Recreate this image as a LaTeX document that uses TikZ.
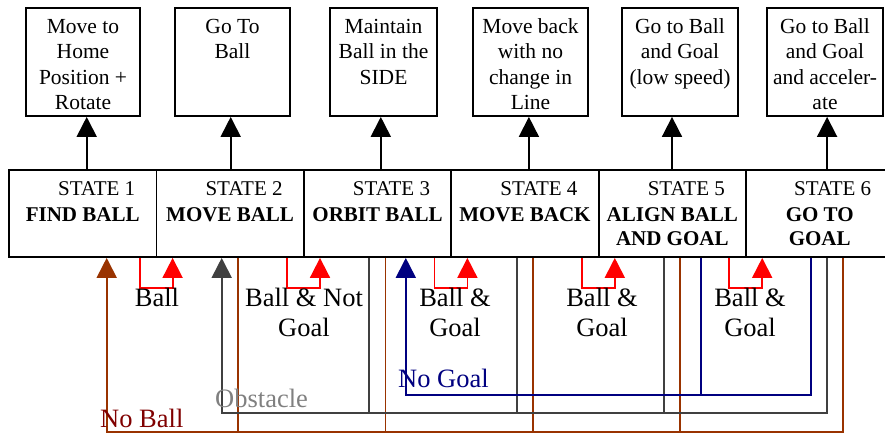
\documentclass[tikz,border=0pt]{standalone}
\usepackage{fontspec}
\setmainfont{Liberation Serif}
\usetikzlibrary{positioning,arrows.meta,calc}
\definecolor{ballred}{HTML}{FF0000}
\definecolor{noballbrown}{HTML}{993300}
\definecolor{noballtext}{HTML}{800000}
\definecolor{obstgray}{HTML}{404040}
\definecolor{obsttext}{HTML}{808080}
\definecolor{nogoalblue}{HTML}{000080}
\newcommand{\stacklines}[1]{\begin{tabular}[t]{@{}c@{}}#1\end{tabular}}
\tikzset{
    on grid,
    node distance=147.4pt,
    state/.style = {
        draw,
        shape=rectangle,
        minimum width=147.4pt,
        inner xsep=0pt,
        inner ysep=0pt,
        text height=25pt,
        text depth=62pt,
        line width=1.8pt,
        font=\fontsize{21}{24.5}\selectfont
    },
    action/.style = {
        draw,
        shape=rectangle,
        inner xsep=0pt,
        inner ysep=0pt,
        text height=25pt,
        text depth=83pt,
        line width=1.8pt,
        font=\fontsize{21.5}{25.5}\selectfont
    },
    translabel/.style = {
        anchor=north,
        inner sep=0pt,
        align=center,
        font=\fontsize{26.5}{30}\selectfont
    },
    buslabel/.style = {
        anchor=base west,
        inner sep=0pt,
        font=\fontsize{26.5}{30}\selectfont
    },
    ball/.style = {draw=ballred, line width=1.8pt},
    noball/.style = {draw=noballbrown, line width=1.8pt},
    obstacle/.style = {draw=obstgray, line width=1.8pt},
    nogoal/.style = {draw=nogoalblue, line width=1.8pt},
    >={Triangle[width=20pt,length=20pt]},
}

\begin{document}
\begin{tikzpicture}[x=1pt,y=-1pt]
        \useasboundingbox (0,0) rectangle (885,432);

        % states
        \node[state] (st1) at (82.7,213.5) {\stacklines{\hspace*{28pt}STATE 1\\[1.5pt]\textbf{FIND BALL}}};
        \node[state, right of=st1] (st2) {\stacklines{\hspace*{28pt}STATE 2\\[1.5pt]\textbf{MOVE BALL}}};
        \node[state, right of=st2] (st3) {\stacklines{\hspace*{28pt}STATE 3\\[1.5pt]\textbf{ORBIT BALL}}};
        \node[state, right of=st3] (st4) {\stacklines{\hspace*{28pt}STATE 4\\[1.5pt]\textbf{MOVE BACK}}};
        \node[state, right of=st4] (st5) {\stacklines{\hspace*{28pt}STATE 5\\[1.5pt]\textbf{ALIGN BALL}\\\textbf{AND GOAL}}};
        \node[state, right of=st5] (st6) {\stacklines{\hspace*{26pt}STATE 6\\[1.5pt]\textbf{GO TO}\\\textbf{GOAL}}};

        % actions
        \node[action, minimum width=114pt] (act1) at (83,62) {\stacklines{Move to\\Home\\Position +\\Rotate}};
        \node[action, minimum width=115pt] (act2) at (232.5,62) {\stacklines{Go To\\Ball}};
        \node[action, minimum width=107pt] (act3) at (383.5,62) {\stacklines{Maintain\\Ball in the\\SIDE}};
        \node[action, minimum width=115pt] (act4) at (530.5,62) {\stacklines{Move back\\with no\\change in\\Line}};
        \node[action, minimum width=116pt] (act5) at (680,62) {\stacklines{Go to Ball\\and Goal\\(low speed)}};
        \node[action, minimum width=116pt] (act6) at (825,62) {\stacklines{Go to Ball\\and Goal\\and acceler-\\ate}};

        \path[draw, line width=1.8pt, ->] ([xshift=4pt]st1.north) -- ([xshift=4pt]st1.north |- act1.south);
        \path[draw, line width=1.8pt, ->] ([xshift=0.6pt]st2.north) -- ([xshift=0.6pt]st2.north |- act2.south);
        \path[draw, line width=1.8pt, ->] ([xshift=3.3pt]st3.north) -- ([xshift=3.3pt]st3.north |- act3.south);
        \path[draw, line width=1.8pt, ->] ([xshift=4pt]st4.north) -- ([xshift=4pt]st4.north |- act4.south);
        \path[draw, line width=1.8pt, ->] ([xshift=-0.3pt]st5.north) -- ([xshift=-0.3pt]st5.north |- act5.south);
        \path[draw, line width=1.8pt, ->] ([xshift=7.4pt]st6.north) -- ([xshift=7.4pt]st6.north |- act6.south);

        % ball transitions
        \path[draw, ball, ->] ([xshift=57pt]st1.south) -- ++(0,30) -| ([xshift=-57.5pt]st2.south);
        \path[draw, ball, ->] ([xshift=57pt]st2.south) -- ++(0,30) -| ([xshift=-57.5pt]st3.south);
        \path[draw, ball, ->] ([xshift=57pt]st3.south) -- ++(0,30) -| ([xshift=-57.5pt]st4.south);
        \path[draw, ball, ->] ([xshift=57pt]st4.south) -- ++(0,30) -| ([xshift=-57.5pt]st5.south);
        \path[draw, ball, ->] ([xshift=57pt]st5.south) -- ++(0,30) -| ([xshift=-57.5pt]st6.south);

        \node[translabel] (lball) at (157,288) {Ball};
        \node[translabel] (lballnotgoal) at (304,288) {Ball \& Not\\Goal};
        \node[translabel] (lballgoala) at (455,288) {Ball \&\\Goal};
        \node[translabel] (lballgoalb) at (602,288) {Ball \&\\Goal};
        \node[translabel] (lballgoalc) at (750,288) {Ball \&\\Goal};

        % no ball bus
        \coordinate (nbbus) at (0,432);
        \path[draw, noball, ->] ([xshift=23.4pt]st6.south) |- ([xshift=24pt]st1.south |- nbbus) -- ([xshift=24pt]st1.south);
        \path[draw, noball] ([xshift=8pt]st2.south) -- ([xshift=8pt]st2.south |- nbbus);
        \path[draw, noball] ([xshift=8pt]st3.south) -- ([xshift=8pt]st3.south |- nbbus);
        \path[draw, noball] ([xshift=8pt]st4.south) -- ([xshift=8pt]st4.south |- nbbus);
        \path[draw, noball] ([xshift=8pt]st5.south) -- ([xshift=8pt]st5.south |- nbbus);

        % obstacle bus
        \coordinate (obbus) at (0,413);
        \path[draw, obstacle, ->] ([xshift=7.4pt]st6.south) |- ([xshift=-8.4pt]st2.south |- obbus) -- ([xshift=-8.4pt]st2.south);
        \path[draw, obstacle] ([xshift=-8.5pt]st3.south) -- ([xshift=-8.5pt]st3.south |- obbus);
        \path[draw, obstacle] ([xshift=-8pt]st4.south) -- ([xshift=-8pt]st4.south |- obbus);
        \path[draw, obstacle] ([xshift=-8.3pt]st5.south) -- ([xshift=-8.3pt]st5.south |- obbus);

        % no goal bus
        \coordinate (ngbus) at (0,395);
        \path[draw, nogoal, ->] ([xshift=-8.6pt]st6.south) |- ([xshift=28.3pt]st3.south |- ngbus) -- ([xshift=28.3pt]st3.south);
        \path[draw, nogoal] ([xshift=28.7pt]st5.south) -- ([xshift=28.7pt]st5.south |- ngbus);

        \node[buslabel, text=noballtext] (lnoball) at (100,427) {No Ball};
        \node[buslabel, text=obsttext] (lobstacle) at (215,407) {Obstacle};
        \node[buslabel, text=nogoalblue] (lnogoal) at (398,387) {No Goal};

    \end{tikzpicture}
\end{document}
